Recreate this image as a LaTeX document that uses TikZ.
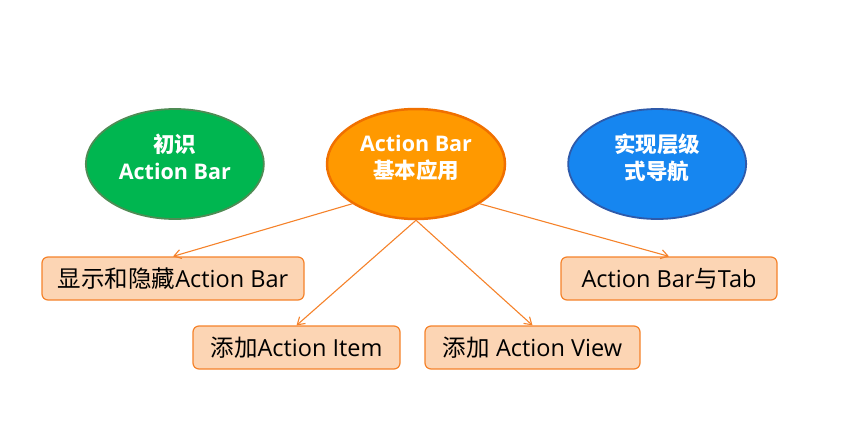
\documentclass[tikz,border=0pt]{standalone}
\usepackage{fontspec}
\setmainfont{Noto Sans CJK SC}
\newfontfamily\en{Open Sans}
\usepackage{tikz}
\usetikzlibrary{arrows.meta, positioning, shapes.geometric}

\definecolor{topicgreen}{RGB}{0,182,80}
\definecolor{topicgreenline}{RGB}{78,140,84}
\definecolor{topicorange}{RGB}{255,153,0}
\definecolor{topicorangeline}{RGB}{240,112,0}
\definecolor{topicblue}{RGB}{22,134,240}
\definecolor{topicblueline}{RGB}{46,90,170}
\definecolor{itemfill}{RGB}{252,213,180}
\definecolor{itemline}{RGB}{245,130,42}

\tikzset{
  topic/.style={ellipse, minimum width=178pt, minimum height=110pt, inner sep=0pt,
    align=center, text=white, text depth=15pt, font=\fontsize{21.5}{27}\selectfont\bfseries},
  item/.style={draw=itemline, line width=1.2pt, fill=itemfill, rounded corners=6pt,
    minimum height=43pt, inner sep=0pt, font=\fontsize{23.5}{26}\selectfont},
  link/.style={-{Straight Barb[length=7pt, width=9pt]}, draw=itemline, line width=1.1pt}
}

\begin{document}
\begin{tikzpicture}[x=1pt, y=-1pt]
    \useasboundingbox (0,0) rectangle (861,420);

    \node[topic, fill=topicorange, draw=topicorangeline, line width=2.5pt] (basic) at (416,164) {{\en Action Bar}\\基本应用};
    \node[topic, fill=topicgreen, draw=topicgreenline, line width=1.8pt, left=61pt of basic] (intro) {初识\\{\en Action Bar}};
    \node[topic, fill=topicblue, draw=topicblueline, line width=1.8pt, right=61pt of basic] (nav) {实现层级\\式导航};

    \node[item, minimum width=262pt] (showhide) at (173,278.5) {显示和隐藏{\en Action Bar}};
    \node[item, minimum width=207pt] (additem) at (296.5,347.5) {添加{\en Action Item}};
    \node[item, minimum width=215pt] (addview) at (532.5,347.5) {添加{\en\ Action View}};
    \node[item, minimum width=216pt] (withtab) at (669,278.5) {{\en Action Bar}与{\en Tab}};

    \draw[link] (basic.south west) -- (showhide.north);
    \draw[link] (basic.south) -- (additem.north);
    \draw[link] (basic.south) -- (addview.north);
    \draw[link] (basic.south east) -- (withtab.north);
\end{tikzpicture}
\end{document}
